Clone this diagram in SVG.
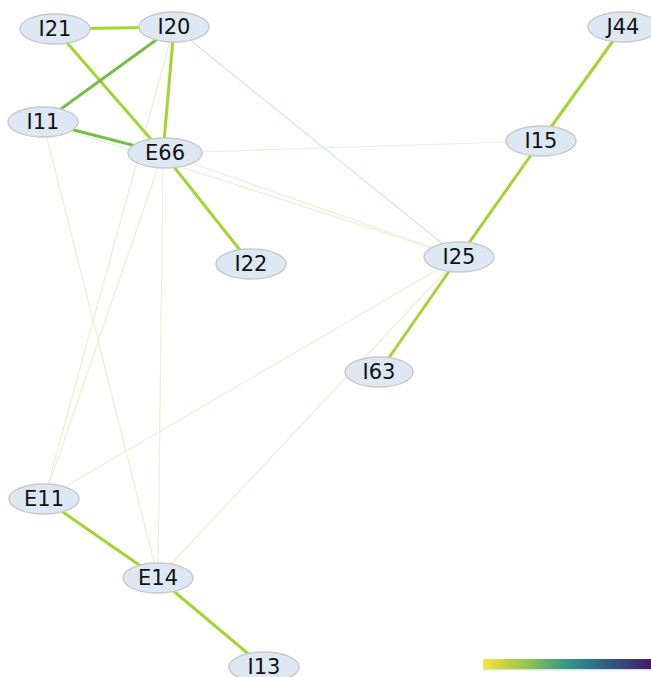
<svg xmlns="http://www.w3.org/2000/svg" width="651" height="677" viewBox="0 0 651 677">
  <defs>
    <linearGradient id="viridis" x1="0" y1="0" x2="1" y2="0">
      <stop offset="0" stop-color="#f4e540"/>
      <stop offset="0.15" stop-color="#bcd23e"/>
      <stop offset="0.3" stop-color="#84be5c"/>
      <stop offset="0.42" stop-color="#4ea574"/>
      <stop offset="0.52" stop-color="#35918a"/>
      <stop offset="0.62" stop-color="#2f7c8c"/>
      <stop offset="0.74" stop-color="#2b5f80"/>
      <stop offset="0.87" stop-color="#3a3e7a"/>
      <stop offset="1" stop-color="#441a66"/>
    </linearGradient>
  </defs>
  <style>
    .strong { stroke: #a0d634; stroke-width: 3; fill: none; }
    .mid { stroke: #76bf45; stroke-width: 3; fill: none; }
    .weak { stroke: #e6f2d2; stroke-width: 1.2; fill: none; }
    .faint { stroke: #cde6e0; stroke-width: 1.2; fill: none; }
    .node ellipse { fill: #dde8f4; stroke: #c9c9c9; stroke-width: 1.5; }
    .node text { font-family: "DejaVu Sans", Verdana, sans-serif; font-size: 21px; fill: #111; text-anchor: middle; dominant-baseline: central; }
  </style>
  <rect width="651" height="677" fill="#ffffff"/>

  <!-- weighted links between codes -->
  <g id="edges">
    <line class="weak" x1="163" y1="153" x2="541" y2="141"/>
    <line class="weak" x1="163" y1="153" x2="459" y2="257"/>
    <line class="weak" x1="43" y1="122" x2="459" y2="257"/>
    <line class="faint" x1="174" y1="27" x2="459" y2="257"/>
    <line class="weak" x1="459" y1="257" x2="44" y2="499"/>
    <line class="weak" x1="459" y1="257" x2="158" y2="578"/>
    <line class="weak" x1="174" y1="27" x2="44" y2="499"/>
    <line class="weak" x1="163" y1="153" x2="44" y2="499"/>
    <line class="weak" x1="43" y1="122" x2="158" y2="578"/>
    <line class="weak" x1="163" y1="153" x2="158" y2="578"/>
    <line class="strong" x1="55" y1="29" x2="174" y2="27"/>
    <line class="strong" x1="55" y1="29" x2="163" y2="153"/>
    <line class="strong" x1="174" y1="27" x2="163" y2="153"/>
    <line class="mid" x1="174" y1="27" x2="43" y2="122"/>
    <line class="mid" x1="43" y1="122" x2="163" y2="153"/>
    <line class="strong" x1="163" y1="153" x2="251" y2="264"/>
    <line class="strong" x1="623" y1="27" x2="541" y2="141"/>
    <line class="strong" x1="541" y1="141" x2="459" y2="257"/>
    <line class="strong" x1="459" y1="257" x2="379" y2="372"/>
    <line class="strong" x1="44" y1="499" x2="158" y2="578"/>
    <line class="strong" x1="158" y1="578" x2="264" y2="667"/>
  </g>

  <g id="I21" class="node"><ellipse cx="55" cy="29" rx="35" ry="15"/><text x="55" y="29">I21</text></g>
  <g id="I20" class="node"><ellipse cx="174" cy="27" rx="35" ry="15"/><text x="174" y="27">I20</text></g>
  <g id="I11" class="node"><ellipse cx="43" cy="122" rx="35" ry="15"/><text x="43" y="122">I11</text></g>
  <g id="E66" class="node"><ellipse cx="165" cy="153" rx="37" ry="15"/><text x="165" y="153">E66</text></g>
  <g id="I22" class="node"><ellipse cx="251" cy="264" rx="35" ry="15"/><text x="251" y="264">I22</text></g>
  <g id="J44" class="node"><ellipse cx="623" cy="27" rx="35" ry="15"/><text x="623" y="27">J44</text></g>
  <g id="I15" class="node"><ellipse cx="541" cy="141" rx="35" ry="15"/><text x="541" y="141">I15</text></g>
  <g id="I25" class="node"><ellipse cx="459" cy="257" rx="35" ry="15"/><text x="459" y="257">I25</text></g>
  <g id="I63" class="node"><ellipse cx="379" cy="372" rx="34" ry="15"/><text x="379" y="372">I63</text></g>
  <g id="E11" class="node"><ellipse cx="44" cy="499" rx="35" ry="15"/><text x="44" y="499">E11</text></g>
  <g id="E14" class="node"><ellipse cx="158" cy="578" rx="35" ry="15"/><text x="158" y="578">E14</text></g>
  <g id="I13" class="node"><ellipse cx="264" cy="667" rx="35" ry="15"/><text x="264" y="667">I13</text></g>

  <!-- colour scale -->
  <g id="colorbar">
    <rect x="483" y="659" width="168" height="10" fill="url(#viridis)"/>
    <rect x="483" y="669" width="168" height="1.5" fill="#e2e2e2"/>
  </g>
</svg>
